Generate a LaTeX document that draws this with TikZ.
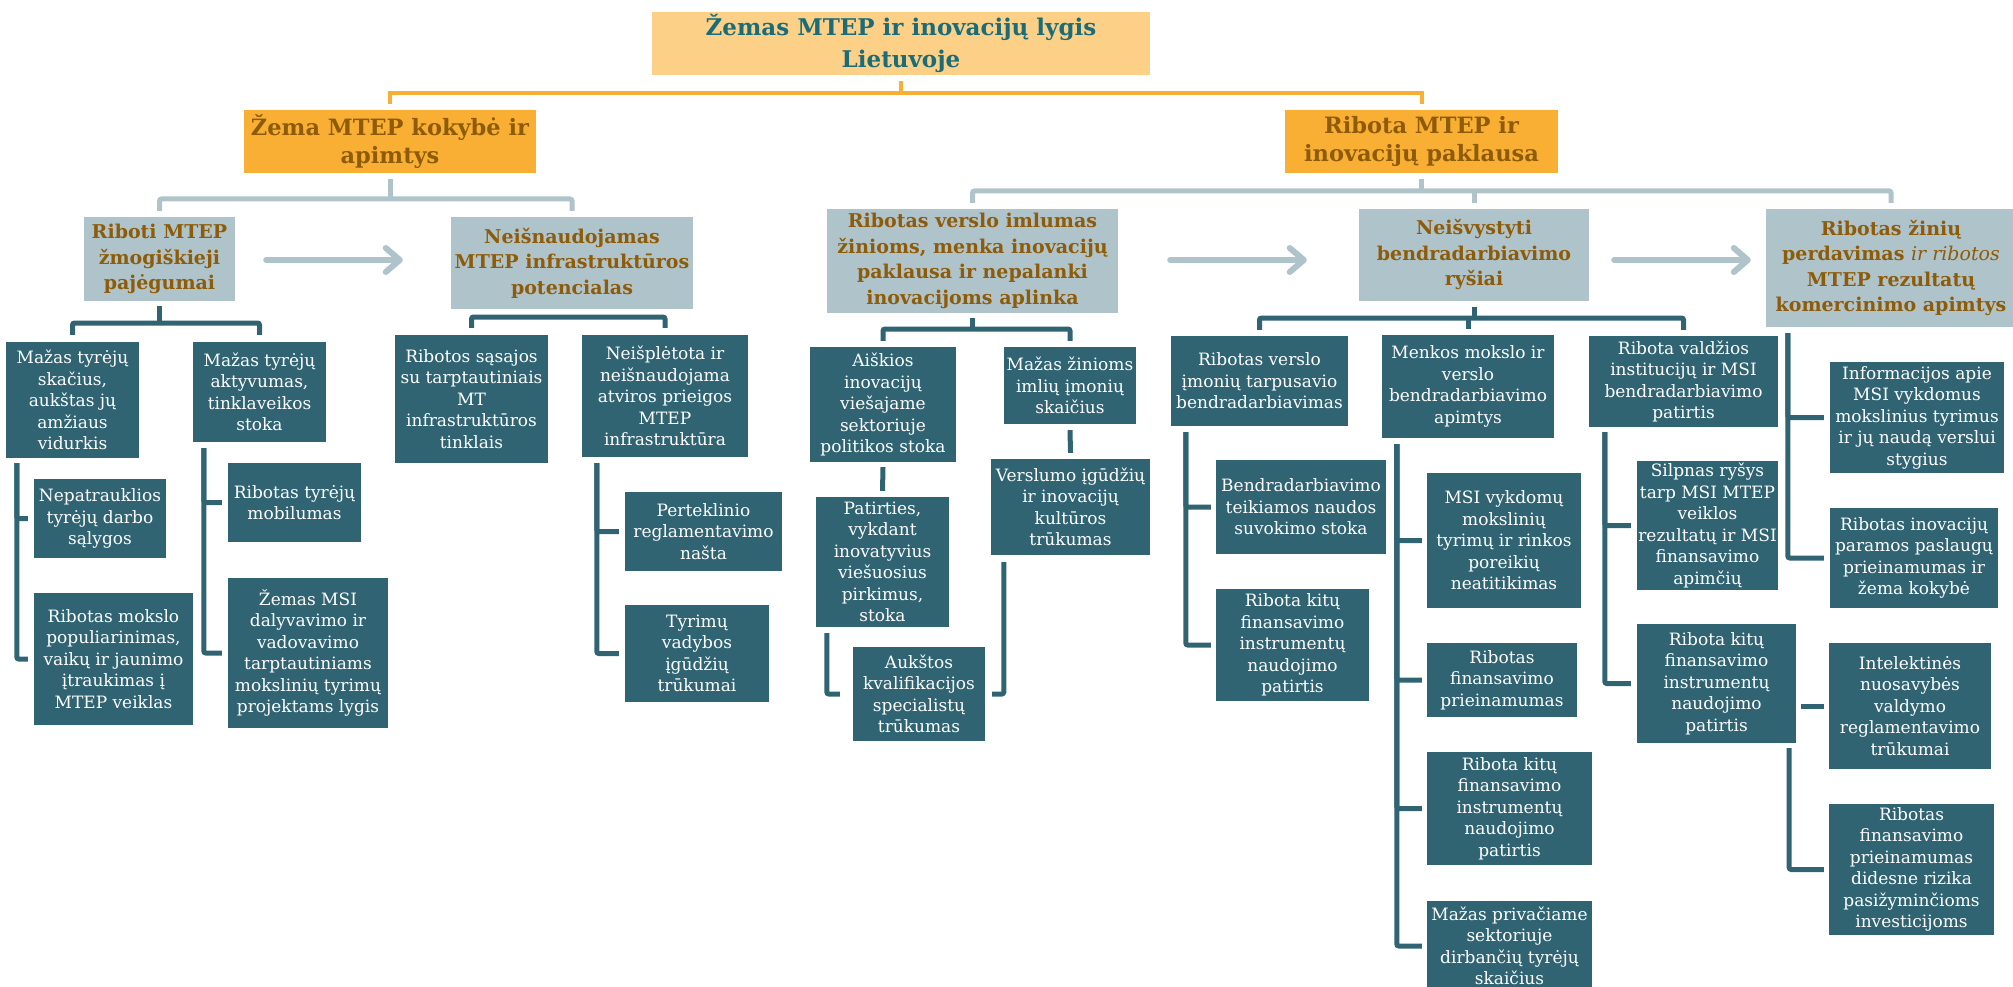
\documentclass[tikz,border=0pt]{standalone}
\usepackage{fontspec}
\setmainfont{DejaVu Serif}
\usetikzlibrary{arrows.meta,calc}

\definecolor{tealbox}{HTML}{306473}
\definecolor{greybox}{HTML}{AFC3CB}
\definecolor{orangebox}{HTML}{F8AF33}
\definecolor{paleorange}{HTML}{FCD087}
\definecolor{browntext}{HTML}{8E5B08}
\definecolor{titletext}{HTML}{1A6C79}

% box placed by its corners: name, x1, y1, x2, y2, style, text
\newcommand\pbox[7]{\node[#6, minimum width=#4pt-#2pt, minimum height=#5pt-#3pt] (#1) at ({(#2+#4)/2},{(#3+#5)/2}) {#7};}

\tikzset{
  basebox/.style={inner sep=0pt, align=center},
  ttl/.style={basebox, fill=paleorange, text=titletext, font=\bfseries\fontsize{23}{32}\selectfont},
  lvlone/.style={basebox, fill=orangebox, text=browntext, font=\bfseries\fontsize{22.5}{28}\selectfont},
  lvltwo/.style={basebox, fill=greybox, text=browntext, font=\bfseries\fontsize{19}{25.5}\selectfont},
  dark/.style={basebox, fill=tealbox, text=white, font=\fontsize{17}{21.5}\selectfont},
  oc/.style={draw=orangebox, line width=4pt},
  gc/.style={draw=greybox, line width=5pt, rounded corners=2pt},
  dc/.style={draw=tealbox, line width=5pt, rounded corners=2pt},
  ar/.style={draw=greybox, line width=6pt, line cap=round,
    -{Straight Barb[length=14pt,width=24pt,round]}}
}

\begin{document}
\begin{tikzpicture}[x=1pt,y=-1pt]
\useasboundingbox (0,0) rectangle (2013,987);

% title and first level
\pbox{top}{652}{12}{1150}{75}{ttl}{Žemas MTEP ir inovacijų lygis\\Lietuvoje}
\pbox{l1a}{244}{110}{536}{173}{lvlone}{Žema MTEP kokybė ir\\apimtys}
\pbox{l1b}{1285}{110}{1558}{173}{lvlone}{Ribota MTEP ir\\inovacijų paklausa}

% second level
\pbox{l2a}{84}{217}{235}{301}{lvltwo}{Riboti MTEP\\žmogiškieji\\pajėgumai}
\pbox{l2b}{451}{217}{693}{309}{lvltwo}{Neišnaudojamas\\MTEP infrastruktūros\\potencialas}
\pbox{l2c}{827}{209}{1118}{313}{lvltwo}{Ribotas verslo imlumas\\žinioms, menka inovacijų\\paklausa ir nepalanki\\inovacijoms aplinka}
\pbox{l2d}{1359}{209}{1589}{301}{lvltwo}{Neišvystyti\\bendradarbiavimo\\ryšiai}
\pbox{l2e}{1766}{209}{2016}{327}{lvltwo}{Ribotas žinių\\perdavimas {\normalfont\itshape ir ribotos}\\MTEP rezultatų\\komercinimo apimtys}

% human capacity branch
\pbox{a1}{6}{342}{139}{458}{dark}{Mažas tyrėjų\\skačius,\\aukštas jų\\amžiaus\\vidurkis}
\pbox{a2}{193}{342}{326}{442}{dark}{Mažas tyrėjų\\aktyvumas,\\tinklaveikos\\stoka}
\pbox{a11}{34}{479}{166}{558}{dark}{Nepatrauklios\\tyrėjų darbo\\sąlygos}
\pbox{a12}{34}{593}{193}{725}{dark}{Ribotas mokslo\\populiarinimas,\\vaikų ir jaunimo\\įtraukimas į\\MTEP veiklas}
\pbox{a21}{228}{463}{361}{542}{dark}{Ribotas tyrėjų\\mobilumas}
\pbox{a22}{228}{578}{388}{728}{dark}{Žemas MSI\\dalyvavimo ir\\vadovavimo\\tarptautiniams\\mokslinių tyrimų\\projektams lygis}

% infrastructure branch
\pbox{b1}{395}{335}{548}{463}{dark}{Ribotos sąsajos\\su tarptautiniais\\MT\\infrastruktūros\\tinklais}
\pbox{b2}{582}{335}{748}{457}{dark}{Neišplėtota ir\\neišnaudojama\\atviros prieigos\\MTEP\\infrastruktūra}
\pbox{b21}{625}{492}{782}{571}{dark}{Perteklinio\\reglamentavimo\\našta}
\pbox{b22}{625}{605}{769}{702}{dark}{Tyrimų\\vadybos\\įgūdžių\\trūkumai}

% business absorption branch
\pbox{c1}{810}{347}{956}{462}{dark}{Aiškios\\inovacijų\\viešajame\\sektoriuje\\politikos stoka}
\pbox{c2}{1004}{347}{1136}{424}{dark}{Mažas žinioms\\imlių įmonių\\skaičius}
\pbox{c11}{816}{497}{949}{627}{dark}{Patirties,\\vykdant\\inovatyvius\\viešuosius\\pirkimus,\\stoka}
\pbox{c21}{991}{459}{1150}{555}{dark}{Verslumo įgūdžių\\ir inovacijų\\kultūros\\trūkumas}
\pbox{c3}{853}{647}{985}{741}{dark}{Aukštos\\kvalifikacijos\\specialistų\\trūkumas}

% cooperation branch
\pbox{d1}{1171}{336}{1348}{426}{dark}{Ribotas verslo\\įmonių tarpusavio\\bendradarbiavimas}
\pbox{d11}{1216}{460}{1386}{554}{dark}{Bendradarbiavimo\\teikiamos naudos\\suvokimo stoka}
\pbox{d12}{1216}{589}{1369}{701}{dark}{Ribota kitų\\finansavimo\\instrumentų\\naudojimo\\patirtis}
\pbox{d2}{1382}{335}{1554}{438}{dark}{Menkos mokslo ir\\verslo\\bendradarbiavimo\\apimtys}
\pbox{d21}{1427}{473}{1581}{608}{dark}{MSI vykdomų\\mokslinių\\tyrimų ir rinkos\\poreikių\\neatitikimas}
\pbox{d22}{1427}{643}{1577}{717}{dark}{Ribotas\\finansavimo\\prieinamumas}
\pbox{d23}{1427}{752}{1592}{865}{dark}{Ribota kitų\\finansavimo\\instrumentų\\naudojimo\\patirtis}
\pbox{d24}{1427}{901}{1592}{991}{dark}{Mažas privačiame\\sektoriuje\\dirbančių tyrėjų\\skaičius}
\pbox{d3}{1589}{336}{1778}{427}{dark}{Ribota valdžios\\institucijų ir MSI\\bendradarbiavimo\\patirtis}
\pbox{d31}{1637}{461}{1778}{590}{dark}{Silpnas ryšys\\tarp MSI MTEP\\veiklos\\rezultatų ir MSI\\finansavimo\\apimčių}
\pbox{d32}{1637}{624}{1796}{743}{dark}{Ribota kitų\\finansavimo\\instrumentų\\naudojimo\\patirtis}

% knowledge transfer branch
\pbox{e1}{1830}{362}{2004}{473}{dark}{Informacijos apie\\MSI vykdomus\\mokslinius tyrimus\\ir jų naudą verslui\\stygius}
\pbox{e2}{1830}{508}{1998}{608}{dark}{Ribotas inovacijų\\paramos paslaugų\\prieinamumas ir\\žema kokybė}
\pbox{e3}{1829}{643}{1991}{769}{dark}{Intelektinės\\nuosavybės\\valdymo\\reglamentavimo\\trūkumai}
\pbox{e4}{1829}{804}{1994}{935}{dark}{Ribotas\\finansavimo\\prieinamumas\\didesne rizika\\pasižyminčioms\\investicijoms}

% levels of the horizontal bars
\coordinate (h1) at (0,93);
\coordinate (h2a) at (0,199);
\coordinate (h2b) at (0,191);
\coordinate (h3a) at (0,323);
\coordinate (h3b) at (0,317);
\coordinate (h3c) at (0,329);
\coordinate (h3d) at (0,318);
\coordinate (ay) at (0,260);

% orange tree
\draw[oc] ([yshift=-6pt]top.south) -- (top.south |- h1);
\draw[oc] ([yshift=6pt]l1a.north) -- (l1a.north |- h1) -- (l1b.north |- h1) -- ([yshift=6pt]l1b.north);

% grey tree
\draw[gc] ([yshift=-6pt]l1a.south) -- (l1a.south |- h2a);
\draw[gc] ([yshift=6pt]l2a.north) -- (l2a.north |- h2a) -- (l2b.north |- h2a) -- ([yshift=6pt]l2b.north);
\draw[gc] ([yshift=-6pt]l1b.south) -- (l1b.south |- h2b);
\draw[gc] ([yshift=6pt]l2c.north) -- (l2c.north |- h2b) -- (l2e.north |- h2b) -- ([yshift=6pt]l2e.north);
\draw[gc] (l2d.north |- h2b) -- ([yshift=6pt]l2d.north);

% arrows between second-level boxes
\draw[ar, shorten <=31pt, shorten >=48pt] (l2a.east |- ay) -- (l2b.west |- ay);
\draw[ar, shorten <=52pt, shorten >=52pt] (l2c.east |- ay) -- (l2d.west |- ay);
\draw[ar, shorten <=25pt, shorten >=15pt] (l2d.east |- ay) -- (l2e.west |- ay);

% dark trees below the second level
\draw[dc] ([yshift=-5pt]l2a.south) -- (l2a.south |- h3a);
\draw[dc] ([yshift=7pt]a1.north) -- (a1.north |- h3a) -- (a2.north |- h3a) -- ([yshift=7pt]a2.north);
\draw[dc] ([yshift=7pt]b1.north) -- (b1.north |- h3b) -- (b2.north |- h3b) -- ([yshift=7pt]b2.north);
\draw[dc] ([yshift=-5pt]l2c.south) -- (l2c.south |- h3c);
\draw[dc] ([yshift=6pt]c1.north) -- (c1.north |- h3c) -- (c2.north |- h3c) -- ([yshift=6pt]c2.north);
\draw[dc] ([yshift=-6pt]l2d.south) -- (l2d.south |- h3d);
\draw[dc] ([yshift=6pt]d1.north) -- (d1.north |- h3d) -- (d3.north |- h3d) -- ([yshift=6pt]d3.north);
\draw[dc] (d2.north |- h3d) -- ([yshift=6pt]d2.north);

% side brackets
\draw[dc] ($(a1.south west)+(11,5)$) |- ([xshift=-6pt]a11.west);
\draw[dc] ($(a1.south west)+(11,5)$) |- ([xshift=-6pt]a12.west);
\draw[dc] ($(a2.south west)+(11,6)$) |- ([xshift=-6pt]a21.west);
\draw[dc] ($(a2.south west)+(11,6)$) |- ([xshift=-6pt]a22.west);
\draw[dc] ($(b2.south west)+(15,6)$) |- ([xshift=-6pt]b21.west);
\draw[dc] ($(b2.south west)+(15,6)$) |- ([xshift=-6pt]b22.west);
\draw[dc] ([yshift=-5pt]c1.south) -- ([yshift=6pt]c11.north);
\draw[dc] ([yshift=-6pt]c2.south) -- ([yshift=6pt]c21.north);
\draw[dc] ($(c11.south west)+(11,6)$) |- ([xshift=-13pt]c3.west);
\draw[dc] ($(c21.south west)+(13,7)$) |- ([xshift=7pt]c3.east);
\draw[dc] ($(d1.south west)+(15,6)$) |- ([xshift=-5pt]d11.west);
\draw[dc] ($(d1.south west)+(15,6)$) |- ([xshift=-5pt]d12.west);
\draw[dc] ($(d2.south west)+(15,6)$) |- ([xshift=-5pt]d21.west);
\draw[dc] ($(d2.south west)+(15,6)$) |- ([xshift=-5pt]d22.west);
\draw[dc] ($(d2.south west)+(15,6)$) |- ([xshift=-5pt]d23.west);
\draw[dc] ($(d2.south west)+(15,6)$) |- ([xshift=-5pt]d24.west);
\draw[dc] ($(d3.south west)+(16,5)$) |- ([xshift=-6pt]d31.west);
\draw[dc] ($(d3.south west)+(16,5)$) |- ([xshift=-6pt]d32.west);
\draw[dc] ($(l2e.south west)+(22,6)$) |- ([xshift=-6pt]e1.west);
\draw[dc] ($(l2e.south west)+(22,6)$) |- ([xshift=-6pt]e2.west);
\draw[dc, shorten <=5pt] (d32.east |- e3.west) -- ([xshift=-5pt]e3.west);
\draw[dc] ($(d32.south east)+(-7,5)$) |- ([xshift=-5pt]e4.west);
\end{tikzpicture}
\end{document}
